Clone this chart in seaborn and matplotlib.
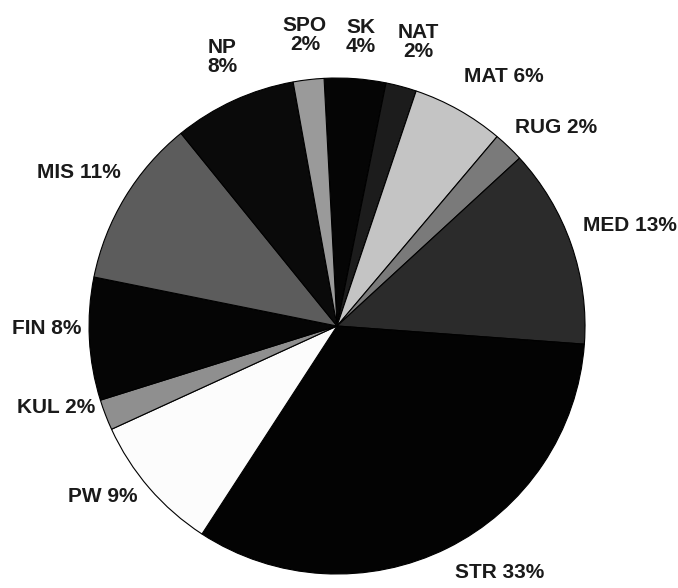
import numpy as np
import seaborn as sns
import matplotlib
matplotlib.use('Agg')
import matplotlib.pyplot as plt

# slices, clockwise from the top
cats = ['SK', 'NAT', 'MAT', 'RUG', 'MED', 'STR', 'PW', 'KUL', 'FIN', 'MIS', 'NP', 'SPO']
pct = [4, 2, 6, 2, 13, 33, 9, 2, 8, 11, 8, 2]
greys = ['#050505', '#1c1c1c', '#c4c4c4', '#7a7a7a', '#2b2b2b', '#030303',
         '#fcfcfc', '#8f8f8f', '#050505', '#5c5c5c', '#0a0a0a', '#9a9a9a']
# labels stacked on two lines near the top
two_line = ['SK', 'NAT', 'NP', 'SPO']

# label placement: distance from centre (in radii) and angle nudge (deg)
lab_dist = [1.17, 1.19, 1.21, 1.19, 1.25, 1.19, 1.17, 1.18, 1.17, 1.21, 1.18, 1.18]
lab_nudge = [-0.5, -1, -4.4, -4, -0.2, 7, -4.8, -4.8, -2.6, 0.5, -1.5, -0.3]

sns.set_theme(style='white')
plt.rcParams['font.family'] = ['Liberation Sans', 'DejaVu Sans']

labels = [f'{c}\n{p}%' if c in two_line else f'{c} {p}%' for c, p in zip(cats, pct)]

fig = plt.figure(figsize=(6.78, 5.88), dpi=100)
ax = fig.add_axes([0.1313, 0.0238, 0.7316, 0.8435])
wedges, texts = ax.pie(pct, labels=labels, colors=greys, startangle=93,
                       counterclock=False,
                       wedgeprops={'edgecolor': 'black', 'linewidth': 0.8},
                       textprops={'fontsize': 15, 'fontweight': 'bold',
                                  'color': '#1a1a1a'})
for w, t, d, n in zip(wedges, texts, lab_dist, lab_nudge):
    a = np.deg2rad((w.theta1 + w.theta2) / 2 + n)
    t.set_position((d * np.cos(a), d * np.sin(a)))
    t.set_ha('center')
    t.set_va('center')
    t.set_linespacing(1.0)
ax.set_xlim(-1, 1)
ax.set_ylim(-1, 1)
ax.set_aspect('equal')
ax.axis('off')

fig.savefig('out.png', dpi=100, facecolor='white')
